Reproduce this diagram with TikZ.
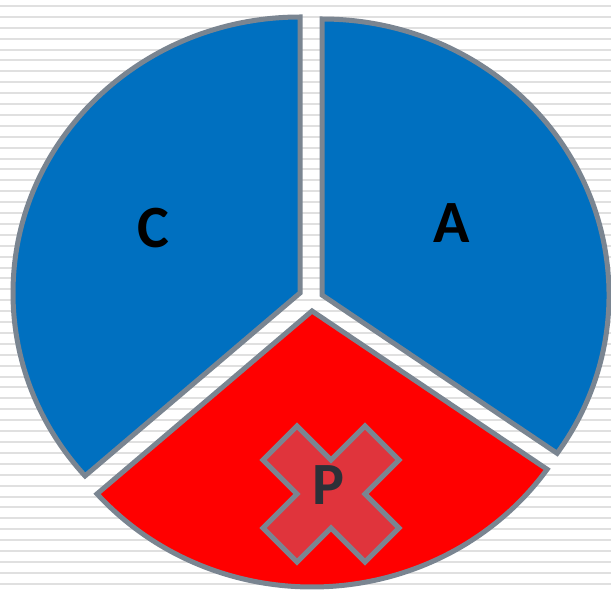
\documentclass[tikz,border=0pt]{standalone}
\usepackage{fontspec}
\setmainfont{Carlito}
\definecolor{pieblue}{RGB}{0,112,192}
\definecolor{piered}{RGB}{255,0,0}
\definecolor{edgegray}{RGB}{122,133,145}
\definecolor{crossred}{RGB}{224,52,60}
\definecolor{stripegray}{RGB}{224,224,224}
\definecolor{pdark}{RGB}{45,48,56}
\begin{document}
\begin{tikzpicture}[x=1pt,y=1pt,
  sector/.style={draw=edgegray,line width=5pt,line join=miter},
  stripe/.style={draw=stripegray,line width=2pt},
  lbl/.style={font=\fontsize{60}{60}\selectfont\bfseries,inner sep=0pt}]
\useasboundingbox (0,0) rectangle (611,590);
\fill[white] (0,0) rectangle (611,590);
\foreach \i in {0,...,53}{
  \draw[stripe] (0,{584-10.9*\i}) -- (611,{584-10.9*\i});
}
% C sector
\draw[sector,fill=pieblue] (300,297) -- ++(90:287pt and 276pt)
  arc[start angle=90,end angle=221.5,x radius=287pt,y radius=276pt] -- cycle;
% A sector
\draw[sector,fill=pieblue] (322,295) -- ++(-35:287pt and 276pt)
  arc[start angle=-35,end angle=90,x radius=287pt,y radius=276pt] -- cycle;
% P sector
\draw[sector,fill=piered] (312,279) -- ++(221.5:287pt and 276pt)
  arc[start angle=221.5,end angle=325,x radius=287pt,y radius=276pt] -- cycle;
% cross
\draw[sector,fill=crossred,shift={(331,96)}]
  (-34,68) -- (0,34) -- (34,68) -- (68,34) -- (34,0) -- (68,-34) -- (34,-68)
  -- (0,-34) -- (-34,-68) -- (-68,-34) -- (-34,0) -- (-68,34) -- cycle;
\node[lbl,text=black] (c) at (153,362) {C};
\node[lbl,text=black] (a) at (452,367) {A};
\node[lbl,text=pdark] (p) at (328,105) {P};
\end{tikzpicture}
\end{document}
